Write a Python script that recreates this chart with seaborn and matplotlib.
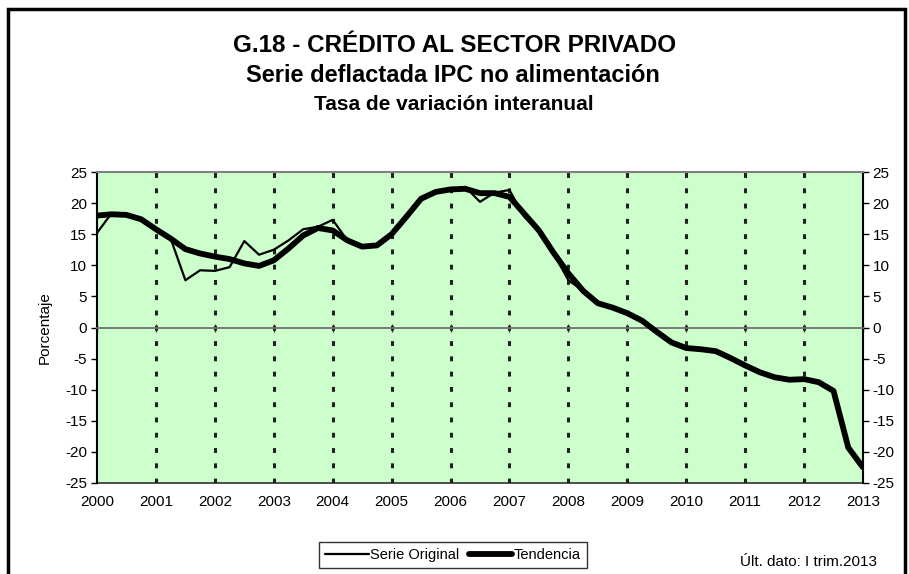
import numpy as np
import pandas as pd
import seaborn as sns
import matplotlib
matplotlib.use("Agg")
import matplotlib.pyplot as plt
from matplotlib.patches import Rectangle
from matplotlib.lines import Line2D

# quarterly data, 2000 Q1 .. 2013 Q1
start_year = 2000
original = [15.2, 18.4, 18.1, 17.4,
            15.6, 14.3, 7.6, 9.2,
            9.1, 9.7, 13.9, 11.7,
            12.5, 14.0, 15.8, 16.2,
            17.3, 14.0, 13.1, 13.2,
            15.0, 17.8, 20.7, 21.8,
            22.2, 22.6, 20.2, 21.7,
            22.1, 17.8, 15.6, 11.9,
            7.6, 5.9, 3.9, 3.2,
            2.3, 1.1, -0.7, -2.4,
            -3.3, -3.5, -3.8, -4.9,
            -6.1, -7.2, -8.0, -8.4,
            -8.3, -8.8, -10.2, -19.3,
            -22.5]
trend = [18.0, 18.2, 18.1, 17.4,
         15.8, 14.3, 12.6, 11.9,
         11.4, 11.0, 10.3, 9.9,
         10.8, 12.7, 14.8, 16.0,
         15.6, 14.0, 13.0, 13.2,
         15.0, 17.8, 20.7, 21.8,
         22.2, 22.3, 21.6, 21.6,
         21.0, 18.3, 15.6, 12.0,
         8.7, 5.9, 3.9, 3.2,
         2.3, 1.1, -0.7, -2.4,
         -3.3, -3.5, -3.8, -4.9,
         -6.1, -7.2, -8.0, -8.4,
         -8.3, -8.8, -10.2, -19.3,
         -22.5]
years = list(range(2000, 2014))
yticks = list(range(-25, 30, 5))

t = start_year + np.arange(len(original)) * 0.25
df = pd.DataFrame({"t": t, "original": original, "trend": trend})

sns.set_style("white")
plt.rcParams['font.family'] = ['Liberation Sans', 'DejaVu Sans']
plt.rcParams.update({'text.color': 'black', 'axes.labelcolor': 'black',
                     'xtick.color': 'black', 'ytick.color': 'black'})

fig = plt.figure(figsize=(9.09, 5.74), dpi=100)
ax = fig.add_axes([97/909, 1 - 483/574, (863 - 97)/909, (483 - 172)/574])
ax.set_facecolor('#CCFFCC')

# year separators
for yr in years[1:-1]:
    ax.axvline(yr, color='#202020', lw=2.2, linestyle=(0, (1.6, 3.4)), zorder=1)

sns.lineplot(data=df, x="t", y="trend", color='black', lw=4.2, ax=ax, zorder=3)
sns.lineplot(data=df, x="t", y="original", color='black', lw=1.6, ax=ax, zorder=4)

ax.set_xlim(2000, 2013)
ax.set_ylim(-25, 25)
ax.set_yticks(yticks)
ax.set_yticklabels([str(v) for v in yticks])
ax.tick_params(axis='y', left=True, right=True, labelleft=True, labelright=True,
               direction='out', length=4, width=1, labelsize=11, pad=3, color='black')

# category axis crossing at zero
ax.spines['bottom'].set_position(('data', 0))
ax.spines['bottom'].set_color('#707070')
ax.spines['bottom'].set_linewidth(1.3)
ax.set_xticks(years)
ax.tick_params(axis='x', bottom=True, direction='inout', length=6, width=1,
               color='#404040', labelbottom=False)

sec = ax.secondary_xaxis(0)
sec.set_xticks(years)
sec.set_xticklabels([str(y) for y in years])
sec.tick_params(length=0, labelsize=11, pad=9)
sec.spines['bottom'].set_color('#404040')
sec.spines['bottom'].set_linewidth(1.3)

ax.spines['top'].set_color('#808080')
ax.spines['top'].set_linewidth(1.5)
for s in ['left', 'right']:
    ax.spines[s].set_color('black')
    ax.spines[s].set_linewidth(1.5)

ax.set_xlabel('')
ax.set_ylabel('Porcentaje', fontsize=11, labelpad=10)

# titles
fig.text(455/909, 1 - 45/574, 'G.18 - CRÉDITO AL SECTOR PRIVADO', ha='center', va='center',
         fontsize=17.5, fontweight='bold')
fig.text(453/909, 1 - 75/574, 'Serie deflactada IPC no alimentación', ha='center', va='center',
         fontsize=17, fontweight='bold')
fig.text(454/909, 1 - 104/574, 'Tasa de variación interanual', ha='center', va='center',
         fontsize=15, fontweight='bold')

handles = [Line2D([], [], color='black', lw=1.6), Line2D([], [], color='black', lw=4.2)]
leg = fig.legend(handles, ['Serie Original', 'Tendencia'], loc='center',
                 bbox_to_anchor=(453/909, 1 - 555/574), ncol=2, fontsize=10.5,
                 frameon=True, fancybox=False, edgecolor='black', handlelength=3.0,
                 handletextpad=0.1, columnspacing=0.6, borderpad=0.4)
leg.get_frame().set_linewidth(1.0)

fig.text(808/909, 1 - 562/574, 'Últ. dato: I trim.2013', ha='center', va='center', fontsize=11)

# outer frame
fig.patches.append(Rectangle((8/909, -0.05), (905 - 8)/909, 1.05 - 9/574, transform=fig.transFigure,
                             fill=False, edgecolor='black', lw=2.5))

fig.savefig('out.png', dpi=100)
